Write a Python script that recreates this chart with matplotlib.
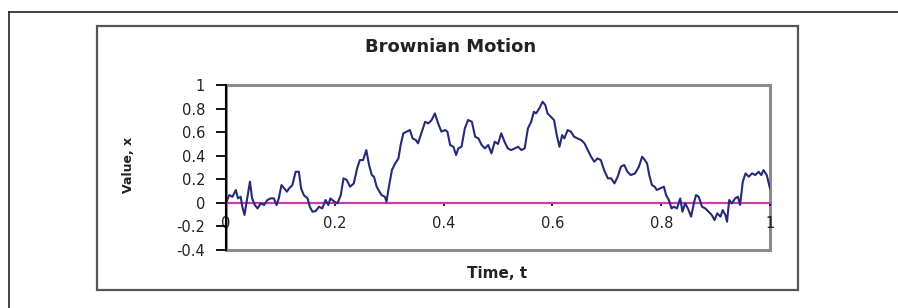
import matplotlib
matplotlib.use("Agg")
import matplotlib.pyplot as plt
from matplotlib.patches import Rectangle
from matplotlib.lines import Line2D

plt.rcParams['font.family'] = ['DejaVu Sans']

# ---- data ----
time_t = [0.000, 0.006, 0.012, 0.018, 0.022, 0.027, 0.030, 0.034, 0.039, 0.044,
          0.048, 0.053, 0.058, 0.064, 0.070, 0.076, 0.082, 0.088, 0.093, 0.097,
          0.102, 0.107, 0.112, 0.116, 0.122, 0.128, 0.134, 0.138, 0.143, 0.150,
          0.154, 0.159, 0.165, 0.171, 0.177, 0.183, 0.188, 0.192, 0.199, 0.205,
          0.211, 0.216, 0.222, 0.228, 0.235, 0.241, 0.246, 0.252, 0.258, 0.263,
          0.268, 0.272, 0.277, 0.282, 0.286, 0.292, 0.295, 0.300, 0.305, 0.311,
          0.317, 0.321, 0.326, 0.332, 0.338, 0.343, 0.349, 0.353, 0.360, 0.366,
          0.372, 0.378, 0.384, 0.390, 0.396, 0.403, 0.407, 0.412, 0.418, 0.423,
          0.427, 0.433, 0.439, 0.445, 0.452, 0.458, 0.464, 0.470, 0.476, 0.482,
          0.488, 0.494, 0.500, 0.506, 0.512, 0.518, 0.524, 0.531, 0.537, 0.543,
          0.549, 0.555, 0.561, 0.566, 0.570, 0.576, 0.582, 0.587, 0.591, 0.597,
          0.603, 0.608, 0.613, 0.618, 0.622, 0.628, 0.634, 0.640, 0.646, 0.653,
          0.659, 0.665, 0.671, 0.677, 0.683, 0.689, 0.695, 0.702, 0.708, 0.714,
          0.720, 0.726, 0.732, 0.738, 0.744, 0.752, 0.759, 0.765, 0.770, 0.774,
          0.778, 0.783, 0.788, 0.792, 0.798, 0.805, 0.809, 0.814, 0.819, 0.823,
          0.829, 0.835, 0.839, 0.844, 0.849, 0.855, 0.860, 0.864, 0.869, 0.875,
          0.881, 0.887, 0.893, 0.898, 0.903, 0.909, 0.913, 0.918, 0.921, 0.925,
          0.930, 0.936, 0.941, 0.945, 0.950, 0.955, 0.961, 0.967, 0.973, 0.979,
          0.984, 0.988, 0.994, 1.000]
value_x = [0.000, 0.066, 0.052, 0.109, 0.038, 0.052, -0.033, -0.103, 0.038, 0.180,
           0.038, -0.018, -0.047, -0.004, -0.018, 0.024, 0.038, 0.038, -0.018, 0.038,
           0.151, 0.123, 0.095, 0.123, 0.151, 0.264, 0.264, 0.123, 0.066, 0.038,
           -0.033, -0.075, -0.069, -0.033, -0.047, 0.024, -0.018, 0.038, 0.010, -0.004,
           0.066, 0.208, 0.194, 0.137, 0.165, 0.293, 0.363, 0.363, 0.448, 0.321,
           0.236, 0.222, 0.137, 0.095, 0.066, 0.052, 0.010, 0.151, 0.278, 0.335,
           0.377, 0.491, 0.590, 0.604, 0.618, 0.547, 0.533, 0.505, 0.604, 0.688,
           0.674, 0.703, 0.759, 0.674, 0.604, 0.618, 0.604, 0.491, 0.476, 0.406,
           0.462, 0.476, 0.632, 0.703, 0.688, 0.561, 0.547, 0.491, 0.462, 0.491,
           0.420, 0.519, 0.500, 0.590, 0.519, 0.462, 0.448, 0.462, 0.476, 0.448,
           0.462, 0.632, 0.688, 0.773, 0.759, 0.802, 0.858, 0.830, 0.759, 0.731,
           0.703, 0.575, 0.476, 0.575, 0.547, 0.618, 0.604, 0.561, 0.547, 0.533,
           0.505, 0.448, 0.392, 0.349, 0.377, 0.363, 0.278, 0.208, 0.208, 0.165,
           0.222, 0.307, 0.321, 0.264, 0.236, 0.250, 0.307, 0.392, 0.363, 0.335,
           0.236, 0.151, 0.137, 0.109, 0.123, 0.137, 0.066, 0.024, -0.047, -0.033,
           -0.047, 0.038, -0.075, -0.004, -0.047, -0.117, -0.004, 0.066, 0.052, -0.033,
           -0.047, -0.075, -0.103, -0.146, -0.089, -0.117, -0.061, -0.103, -0.160, 0.024,
           -0.004, 0.038, 0.052, -0.018, 0.180, 0.250, 0.222, 0.250, 0.236, 0.264,
           0.236, 0.278, 0.236, 0.123]
x_ticks = [0, 0.2, 0.4, 0.6, 0.8, 1]
x_tick_labels = ["0", "0.2", "0.4", "0.6", "0.8", "1"]
y_ticks = [-0.4, -0.2, 0, 0.2, 0.4, 0.6, 0.8, 1]
y_tick_labels = ["-0.4", "-0.2", "0", "0.2", "0.4", "0.6", "0.8", "1"]
title = "Brownian Motion"
x_label = "Time, t"
y_label = "Value, x"

W, H = 898, 308
fig = plt.figure(figsize=(W / 100, H / 100), dpi=100)
fig.patch.set_facecolor('white')

# page frame (top and left lines)
fig.add_artist(Line2D([8.5 / W, 1.0], [1 - 11.5 / H, 1 - 11.5 / H],
                      transform=fig.transFigure, color='#222222', lw=1.2))
fig.add_artist(Line2D([8.5 / W, 8.5 / W], [0, 1 - 11.5 / H],
                      transform=fig.transFigure, color='#222222', lw=1.2))

# chart area border
fig.add_artist(Rectangle((97 / W, 1 - 290 / H), 701 / W, 264 / H,
                         transform=fig.transFigure, fill=False,
                         edgecolor='#555555', lw=1.6))

ax = fig.add_axes([226 / W, 1 - 250 / H, 544 / W, 165 / H])
ax.set_xlim(0, 1)
ax.set_ylim(-0.4, 1)

ax.plot(time_t, value_x, color='#262a7a', lw=1.5, zorder=3)

# plot area gray border
ax.add_patch(Rectangle((0, 0), 1, 1, transform=ax.transAxes, fill=False,
                       edgecolor='#8c8c8c', lw=2.2, clip_on=False, zorder=1))

for s in ['top', 'right']:
    ax.spines[s].set_visible(False)
ax.spines['left'].set_color('black')
ax.spines['left'].set_linewidth(1.5)
ax.spines['left'].set_zorder(4)
ax.spines['bottom'].set_position(('data', 0))
ax.spines['bottom'].set_color('#c83cb4')
ax.spines['bottom'].set_linewidth(1.6)
ax.spines['bottom'].set_zorder(2)

ax.set_yticks(y_ticks)
ax.set_yticklabels(y_tick_labels)
ax.set_xticks(x_ticks)
ax.set_xticklabels(x_tick_labels)
ax.tick_params(axis='y', direction='out', length=7, width=1.3, color='black',
               pad=8, labelsize=10.5, labelcolor='#222222')
ax.tick_params(axis='x', direction='out', length=2.5, width=1.2, color='black',
               pad=7, labelsize=10.5, labelcolor='#222222')

fig.text(450.5 / W, 1 - 46.5 / H, title, ha='center', va='center',
         fontsize=13, fontweight='bold', color='#222222')
fig.text(497 / W, 1 - 273 / H, x_label, ha='center', va='center',
         fontsize=11, fontweight='bold', color='#222222')
fig.text(129 / W, 1 - 165 / H, y_label, ha='center', va='center',
         rotation=90, fontsize=9, fontweight='bold', color='#222222')

fig.savefig('out.png', dpi=100)
